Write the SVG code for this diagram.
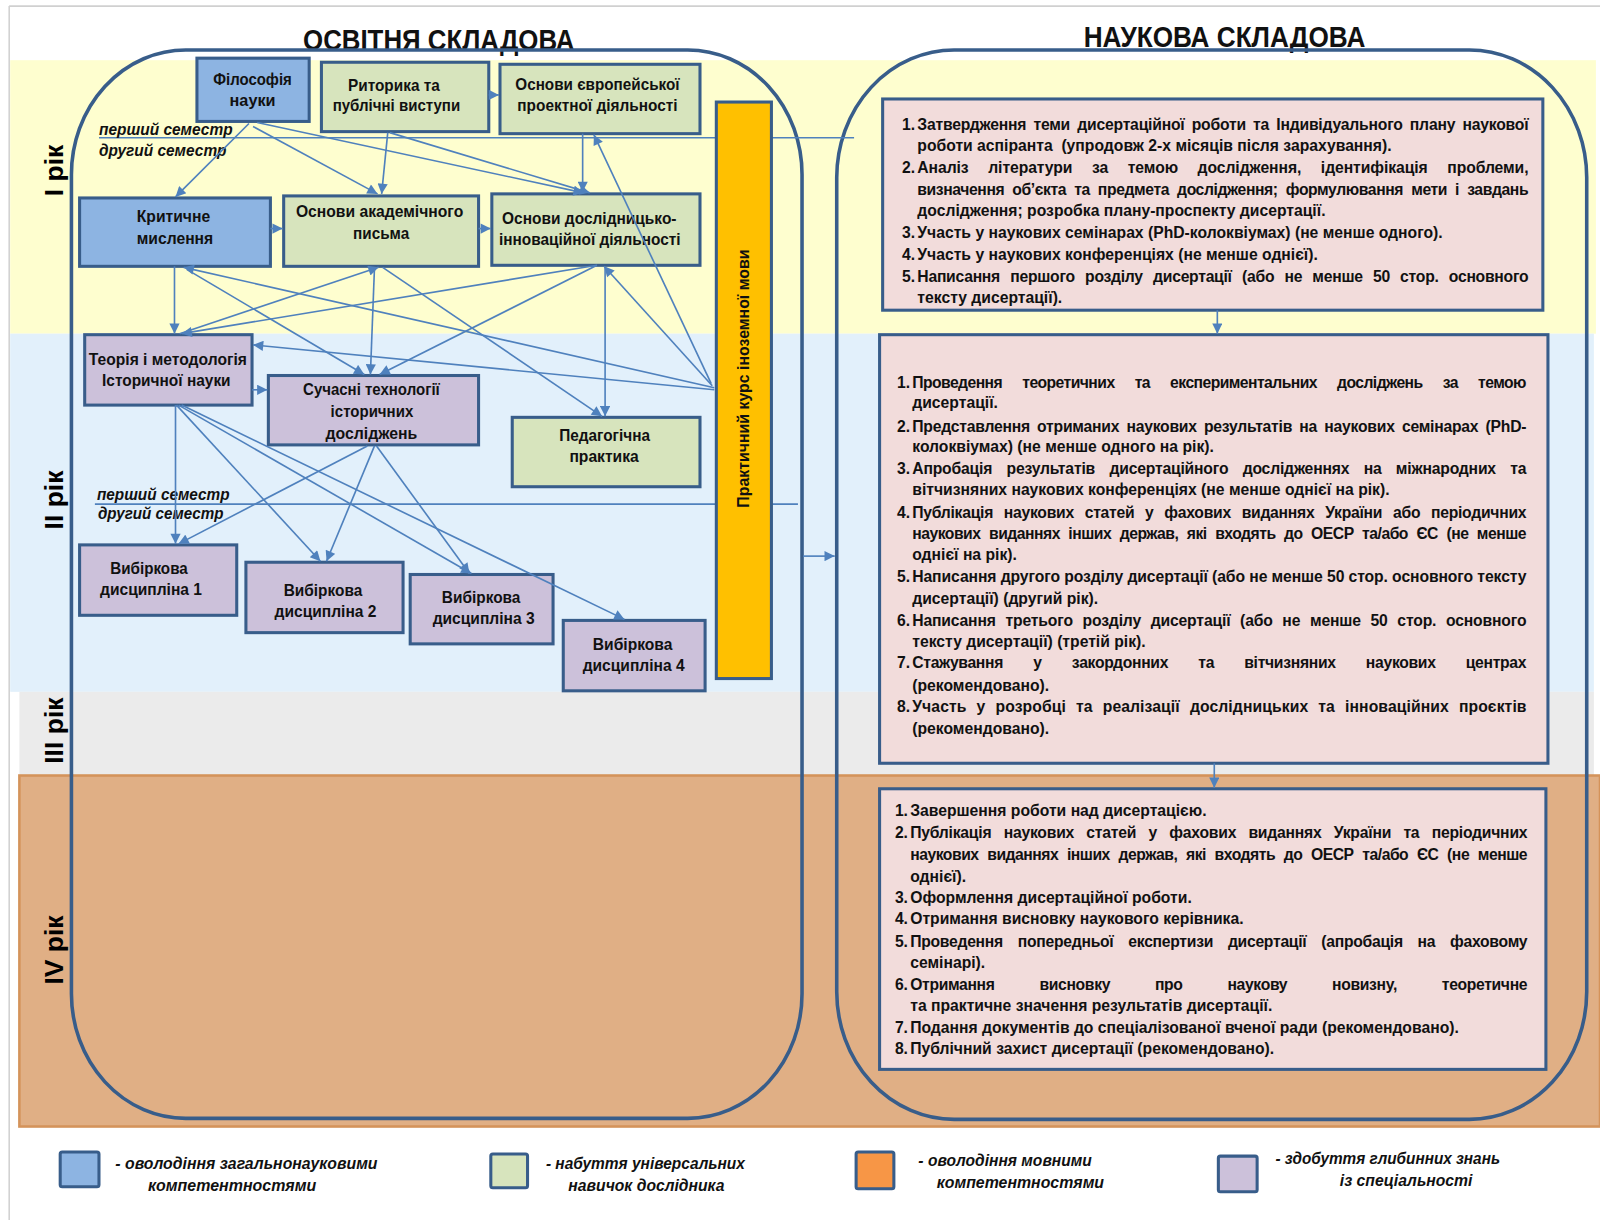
<svg xmlns="http://www.w3.org/2000/svg" width="1600" height="1220" viewBox="0 0 1600 1220">
<defs>
<marker id="ah" viewBox="0 0 10 10" refX="10" refY="5" markerWidth="12" markerHeight="10" markerUnits="userSpaceOnUse" orient="auto"><path d="M0,0 L10,5 L0,10 z" fill="#4F81BD"/></marker>
<style>
.f{font-family:"Liberation Sans Narrow","Liberation Sans",Arial,sans-serif;font-weight:bold;fill:#111}
.nt{font-size:16.5px;text-anchor:middle}
.rt{font-size:15.4px}
.sem{font-size:16.5px;font-style:italic}
.leg{font-size:16px;font-style:italic}
.yr{font-family:"Liberation Sans",Arial,sans-serif;font-weight:bold;font-size:26px;fill:#000;text-anchor:middle}
.node rect{stroke:#385D8A;stroke-width:3}
.blue{fill:#8DB4E2}.green{fill:#D7E4BD}.purple{fill:#CCC1DA}.pink{fill:#F2DCDB}.orange{fill:#F79646}
.conn line{stroke:#4F81BD;stroke-width:1.6;marker-end:url(#ah)}
.big{fill:none;stroke:#385D8A;stroke-width:3.5}
.sl{stroke:#4F81BD;stroke-width:1.6}
</style>
</defs>
<rect x="0" y="0" width="1600" height="1220" fill="#fff"/>
<g transform="scale(1.0204)">
<!-- bands -->
<g id="bands">
<line x1="9" y1="6" x2="1568" y2="6" stroke="#D0D0D0" stroke-width="1.5"/>
<line x1="9" y1="6" x2="9" y2="1196" stroke="#D0D0D0" stroke-width="1.5"/>
<rect x="10" y="59" width="1554" height="268" fill="#FEFECF"/>
<rect x="10" y="327" width="1552" height="351" fill="#E2F0FB"/>
<rect x="19" y="678" width="1543" height="82" fill="#EBEBEB"/>
<rect x="19" y="760" width="1549" height="344" fill="#E0AF85" stroke="#D4935A" stroke-width="2.5"/>
</g>
<!-- titles -->
<text class="f" x="430" y="49" font-size="28" text-anchor="middle" textLength="266" lengthAdjust="spacingAndGlyphs">ОСВІТНЯ СКЛАДОВА</text>
<text class="f" x="1200" y="46" font-size="28" text-anchor="middle" textLength="276" lengthAdjust="spacingAndGlyphs">НАУКОВА СКЛАДОВА</text>
<!-- year labels -->
<g id="years">
<text class="yr" transform="translate(62,167) rotate(-90)">I рік</text>
<text class="yr" transform="translate(62,490) rotate(-90)">II рік</text>
<text class="yr" transform="translate(62,716) rotate(-90)">III рік</text>
<text class="yr" transform="translate(62,931) rotate(-90)">IV рік</text>
</g>
<!-- big containers -->
<rect id="osvitnia" class="big" x="70" y="49" width="716" height="1047" rx="112" ry="122"/>
<rect id="naukova" class="big" x="820" y="49" width="735" height="1048" rx="115" ry="125"/>
<!-- semester lines -->
<g id="semesters">
<line class="sl" x1="97" y1="135" x2="837" y2="135"/>
<line class="sl" x1="93" y1="494" x2="782" y2="494"/>
<text class="f sem" x="97" y="132" textLength="131" lengthAdjust="spacingAndGlyphs">перший семестр</text>
<text class="f sem" x="97" y="153" textLength="125" lengthAdjust="spacingAndGlyphs">другий семестр</text>
<text class="f sem" x="95" y="490" textLength="130" lengthAdjust="spacingAndGlyphs">перший семестр</text>
<text class="f sem" x="96" y="509" textLength="123" lengthAdjust="spacingAndGlyphs">другий семестр</text>
</g>
<!-- language course bar -->
<g id="n-language" class="node">
<rect x="702" y="100" width="54" height="565" fill="#FFC000"/>
<text class="f" font-size="16.5" text-anchor="middle" transform="translate(734,371) rotate(-90)" textLength="253" lengthAdjust="spacingAndGlyphs">Практичний курс іноземної мови</text>
</g>
<!-- nodes -->
<g id="n-filosofia" class="node"><rect class="blue" x="193" y="57" width="110" height="62"/>
<text class="f nt" x="247.5" y="83" textLength="77" lengthAdjust="spacingAndGlyphs">Філософія</text>
<text class="f nt" x="247.5" y="104" textLength="45" lengthAdjust="spacingAndGlyphs">науки</text></g>
<g id="n-rytoryka" class="node"><rect class="green" x="315" y="61" width="164" height="68"/>
<text class="f nt" x="386" y="89" textLength="90" lengthAdjust="spacingAndGlyphs">Риторика та</text>
<text class="f nt" x="388.5" y="109" textLength="125" lengthAdjust="spacingAndGlyphs">публічні виступи</text></g>
<g id="n-yevropa" class="node"><rect class="green" x="490" y="63" width="196" height="68"/>
<text class="f nt" x="585.5" y="88" textLength="161" lengthAdjust="spacingAndGlyphs">Основи європейської</text>
<text class="f nt" x="585.5" y="109" textLength="157" lengthAdjust="spacingAndGlyphs">проектної діяльності</text></g>
<g id="n-krytychne" class="node"><rect class="blue" x="78" y="194" width="187" height="67"/>
<text class="f nt" x="170" y="218" textLength="72" lengthAdjust="spacingAndGlyphs">Критичне</text>
<text class="f nt" x="171.5" y="239.5" textLength="75" lengthAdjust="spacingAndGlyphs">мислення</text></g>
<g id="n-akadem" class="node"><rect class="green" x="278" y="192" width="191" height="69"/>
<text class="f nt" x="372" y="213" textLength="164" lengthAdjust="spacingAndGlyphs">Основи академічного</text>
<text class="f nt" x="373.5" y="234" textLength="55" lengthAdjust="spacingAndGlyphs">письма</text></g>
<g id="n-doslid" class="node"><rect class="green" x="482" y="190" width="204" height="70"/>
<text class="f nt" x="577.5" y="219.5" textLength="171" lengthAdjust="spacingAndGlyphs">Основи дослідницько-</text>
<text class="f nt" x="578" y="240" textLength="178" lengthAdjust="spacingAndGlyphs">інноваційної діяльності</text></g>
<g id="n-teoria" class="node"><rect class="purple" x="83" y="328" width="164" height="69"/>
<text class="f nt" x="164.5" y="357.5" textLength="155" lengthAdjust="spacingAndGlyphs">Теорія і методологія</text>
<text class="f nt" x="163" y="378.5" textLength="126" lengthAdjust="spacingAndGlyphs">Історичної науки</text></g>
<g id="n-suchasni" class="node"><rect class="purple" x="263" y="368" width="206" height="68"/>
<text class="f nt" x="364" y="387" textLength="134" lengthAdjust="spacingAndGlyphs">Сучасні технології</text>
<text class="f nt" x="364.5" y="408.5" textLength="81" lengthAdjust="spacingAndGlyphs">історичних</text>
<text class="f nt" x="364" y="430" textLength="90" lengthAdjust="spacingAndGlyphs">досліджень</text></g>
<g id="n-pedagog" class="node"><rect class="green" x="502" y="409" width="184" height="68"/>
<text class="f nt" x="592.5" y="432" textLength="89" lengthAdjust="spacingAndGlyphs">Педагогічна</text>
<text class="f nt" x="592" y="452.5" textLength="68" lengthAdjust="spacingAndGlyphs">практика</text></g>
<g id="n-vd1" class="node"><rect class="purple" x="78" y="534" width="154" height="69"/>
<text class="f nt" x="146" y="562.5" textLength="76" lengthAdjust="spacingAndGlyphs">Вибіркова</text>
<text class="f nt" x="148" y="583" textLength="100" lengthAdjust="spacingAndGlyphs">дисципліна 1</text></g>
<g id="n-vd2" class="node"><rect class="purple" x="241" y="551" width="154" height="69"/>
<text class="f nt" x="316.5" y="584" textLength="77" lengthAdjust="spacingAndGlyphs">Вибіркова</text>
<text class="f nt" x="319" y="604.5" textLength="100" lengthAdjust="spacingAndGlyphs">дисципліна 2</text></g>
<g id="n-vd3" class="node"><rect class="purple" x="402" y="563" width="140" height="68"/>
<text class="f nt" x="471.5" y="591" textLength="77" lengthAdjust="spacingAndGlyphs">Вибіркова</text>
<text class="f nt" x="474" y="611.5" textLength="100" lengthAdjust="spacingAndGlyphs">дисципліна 3</text></g>
<g id="n-vd4" class="node"><rect class="purple" x="552" y="608" width="139" height="69"/>
<text class="f nt" x="620" y="637" textLength="78" lengthAdjust="spacingAndGlyphs">Вибіркова</text>
<text class="f nt" x="621" y="658" textLength="100" lengthAdjust="spacingAndGlyphs">дисципліна 4</text></g>
<!-- right column boxes -->
<g id="n-rik1" class="node"><rect class="pink" x="865" y="97" width="647" height="207"/>
<text class="f rt" x="884" y="127">1.</text><text class="f rt" x="899" y="127" textLength="599" lengthAdjust="spacing" word-spacing="3">Затвердження теми дисертаційної роботи та Індивідуального плану наукової</text>
<text class="f rt" x="899" y="148">роботи аспіранта&#160; (упродовж 2-х місяців після зарахування).</text>
<text class="f rt" x="884" y="170">2.</text><text class="f rt" x="899" y="170" textLength="599" lengthAdjust="spacing" word-spacing="15">Аналіз літератури за темою дослідження, ідентифікація проблеми,</text>
<text class="f rt" x="899" y="191" textLength="599" lengthAdjust="spacing" word-spacing="4">визначення об’єкта та предмета дослідження; формулювання мети і завдань</text>
<text class="f rt" x="899" y="212">дослідження; розробка плану-проспекту дисертації.</text>
<text class="f rt" x="884" y="233">3.</text><text class="f rt" x="899" y="233">Участь у наукових семінарах (PhD-колоквіумах) (не менше одного).</text>
<text class="f rt" x="884" y="255">4.</text><text class="f rt" x="899" y="255">Участь у наукових конференціях (не менше однієї).</text>
<text class="f rt" x="884" y="276">5.</text><text class="f rt" x="899" y="276" textLength="599" lengthAdjust="spacing" word-spacing="6">Написання першого розділу дисертації (або не менше 50 стор. основного</text>
<text class="f rt" x="899" y="297">тексту дисертації).</text>
</g>
<g id="n-rik23" class="node"><rect class="pink" x="862" y="328" width="655" height="420"/>
<text class="f rt" x="879" y="380">1.</text><text class="f rt" x="894" y="380" textLength="602" lengthAdjust="spacing" word-spacing="16">Проведення теоретичних та експериментальних досліджень за темою</text>
<text class="f rt" x="894" y="400">дисертації.</text>
<text class="f rt" x="879" y="423">2.</text><text class="f rt" x="894" y="423" textLength="602" lengthAdjust="spacing" word-spacing="3">Представлення отриманих наукових результатів на наукових семінарах (PhD-</text>
<text class="f rt" x="894" y="443">колоквіумах) (не менше одного на рік).</text>
<text class="f rt" x="879" y="465">3.</text><text class="f rt" x="894" y="465" textLength="602" lengthAdjust="spacing" word-spacing="10">Апробація результатів дисертаційного дослідженнях на міжнародних та</text>
<text class="f rt" x="894" y="485">вітчизняних наукових конференціях (не менше однієї на рік).</text>
<text class="f rt" x="879" y="508">4.</text><text class="f rt" x="894" y="508" textLength="602" lengthAdjust="spacing" word-spacing="6.5">Публікація наукових статей у фахових виданнях України  або періодичних</text>
<text class="f rt" x="894" y="528" textLength="602" lengthAdjust="spacing" word-spacing="4.5">наукових виданнях інших держав, які входять до ОЕСР та/або ЄС (не менше</text>
<text class="f rt" x="894" y="549">однієї на рік).</text>
<text class="f rt" x="879" y="570">5.</text><text class="f rt" x="894" y="570" textLength="602" lengthAdjust="spacing">Написання другого розділу дисертації (або не менше 50 стор. основного тексту</text>
<text class="f rt" x="894" y="592">дисертації) (другий рік).</text>
<text class="f rt" x="879" y="613">6.</text><text class="f rt" x="894" y="613" textLength="602" lengthAdjust="spacing" word-spacing="5.4">Написання третього розділу дисертації (або не менше 50 стор. основного</text>
<text class="f rt" x="894" y="634">тексту дисертації) (третій рік).</text>
<text class="f rt" x="879" y="655">7.</text><text class="f rt" x="894" y="655" textLength="602" lengthAdjust="spacing" word-spacing="25.6">Стажування у закордонних та вітчизняних наукових центрах</text>
<text class="f rt" x="894" y="677">(рекомендовано).</text>
<text class="f rt" x="879" y="698">8.</text><text class="f rt" x="894" y="698" textLength="602" lengthAdjust="spacing" word-spacing="5.5">Участь у розробці та реалізації дослідницьких та інноваційних проєктів</text>
<text class="f rt" x="894" y="719">(рекомендовано).</text>
</g>
<g id="n-rik4" class="node"><rect class="pink" x="862" y="773" width="653" height="275"/>
<text class="f rt" x="877" y="800">1.</text><text class="f rt" x="892" y="800">Завершення роботи над дисертацією.</text>
<text class="f rt" x="877" y="821">2.</text><text class="f rt" x="892" y="821" textLength="605" lengthAdjust="spacing" word-spacing="8">Публікація наукових статей у фахових виданнях України та періодичних</text>
<text class="f rt" x="892" y="843" textLength="605" lengthAdjust="spacing" word-spacing="4.7">наукових виданнях інших держав, які входять до ОЕСР та/або ЄС (не менше</text>
<text class="f rt" x="892" y="864">однієї).</text>
<text class="f rt" x="877" y="885">3.</text><text class="f rt" x="892" y="885">Оформлення дисертаційної роботи.</text>
<text class="f rt" x="877" y="906">4.</text><text class="f rt" x="892" y="906">Отримання висновку наукового керівника.</text>
<text class="f rt" x="877" y="928">5.</text><text class="f rt" x="892" y="928" textLength="605" lengthAdjust="spacing" word-spacing="10.5">Проведення попередньої експертизи дисертації (апробація на фаховому</text>
<text class="f rt" x="892" y="949">семінарі).</text>
<text class="f rt" x="877" y="970">6.</text><text class="f rt" x="892" y="970" textLength="605" lengthAdjust="spacing" word-spacing="40">Отримання висновку про наукову новизну, теоретичне</text>
<text class="f rt" x="892" y="991">та практичне значення результатів дисертації.</text>
<text class="f rt" x="877" y="1012">7.</text><text class="f rt" x="892" y="1012">Подання документів до спеціалізованої вченої ради (рекомендовано).</text>
<text class="f rt" x="877" y="1033">8.</text><text class="f rt" x="892" y="1033">Публічний захист дисертації (рекомендовано).</text>
</g>
<!-- connectors -->
<g id="connectors" class="conn">
<line x1="244" y1="121" x2="172" y2="193"/>
<line x1="248" y1="124" x2="370" y2="190"/>
<line x1="252" y1="120" x2="572" y2="189"/>
<line x1="380" y1="130" x2="374" y2="190"/>
<line x1="382" y1="130" x2="578" y2="189"/>
<line x1="479" y1="93" x2="489" y2="93"/>
<line x1="571" y1="131" x2="571" y2="188"/>
<line x1="697" y1="376" x2="582" y2="132"/>
<line x1="265" y1="224" x2="277" y2="224"/>
<line x1="469" y1="224" x2="481" y2="224"/>
<line x1="171" y1="261" x2="171" y2="327"/>
<line x1="700" y1="380" x2="180" y2="262"/>
<line x1="698" y1="378" x2="592" y2="261"/>
<line x1="700" y1="382" x2="248" y2="338"/>
<line x1="176" y1="327" x2="371" y2="262"/>
<line x1="585" y1="260" x2="178" y2="327"/>
<line x1="367" y1="262" x2="363" y2="367"/>
<line x1="585" y1="260" x2="372" y2="367"/>
<line x1="183" y1="264" x2="357" y2="367"/>
<line x1="375" y1="262" x2="590" y2="408"/>
<line x1="593" y1="262" x2="593" y2="408"/>
<line x1="247" y1="382" x2="262" y2="382"/>
<line x1="172" y1="397" x2="172" y2="533"/>
<line x1="173" y1="397" x2="314" y2="550"/>
<line x1="175" y1="397" x2="462" y2="562"/>
<line x1="178" y1="397" x2="612" y2="607"/>
<line x1="360" y1="437" x2="175" y2="533"/>
<line x1="367" y1="437" x2="320" y2="550"/>
<line x1="369" y1="437" x2="460" y2="562"/>
<line x1="787" y1="545" x2="818" y2="545"/>
<line x1="1193" y1="304" x2="1193" y2="327"/>
<line x1="1190" y1="748" x2="1190" y2="772"/>
</g>
<!-- legend -->
<g id="legend">
<g id="leg1" class="node"><rect class="blue" x="59" y="1129" width="38" height="34" rx="2"/></g>
<text class="f leg" x="113" y="1146" textLength="257" lengthAdjust="spacingAndGlyphs">- оволодіння загальнонауковими</text>
<text class="f leg" x="145" y="1167" textLength="165" lengthAdjust="spacingAndGlyphs">компетентностями</text>
<g id="leg2" class="node"><rect class="green" x="481" y="1131" width="36" height="33" rx="2"/></g>
<text class="f leg" x="535" y="1146" textLength="195" lengthAdjust="spacingAndGlyphs">- набуття універсальних</text>
<text class="f leg" x="557" y="1167" textLength="153" lengthAdjust="spacingAndGlyphs">навичок дослідника</text>
<g id="leg3" class="node"><rect class="orange" x="839" y="1129" width="37" height="36" rx="2"/></g>
<text class="f leg" x="900" y="1143" textLength="170" lengthAdjust="spacingAndGlyphs">- оволодіння мовними</text>
<text class="f leg" x="918" y="1164" textLength="164" lengthAdjust="spacingAndGlyphs">компетентностями</text>
<g id="leg4" class="node"><rect class="purple" x="1194" y="1133" width="38" height="35" rx="2"/></g>
<text class="f leg" x="1250" y="1141" textLength="220" lengthAdjust="spacingAndGlyphs">- здобуття глибинних знань</text>
<text class="f leg" x="1313" y="1162" textLength="130" lengthAdjust="spacingAndGlyphs">із спеціальності</text>
</g>
</g>
</svg>
